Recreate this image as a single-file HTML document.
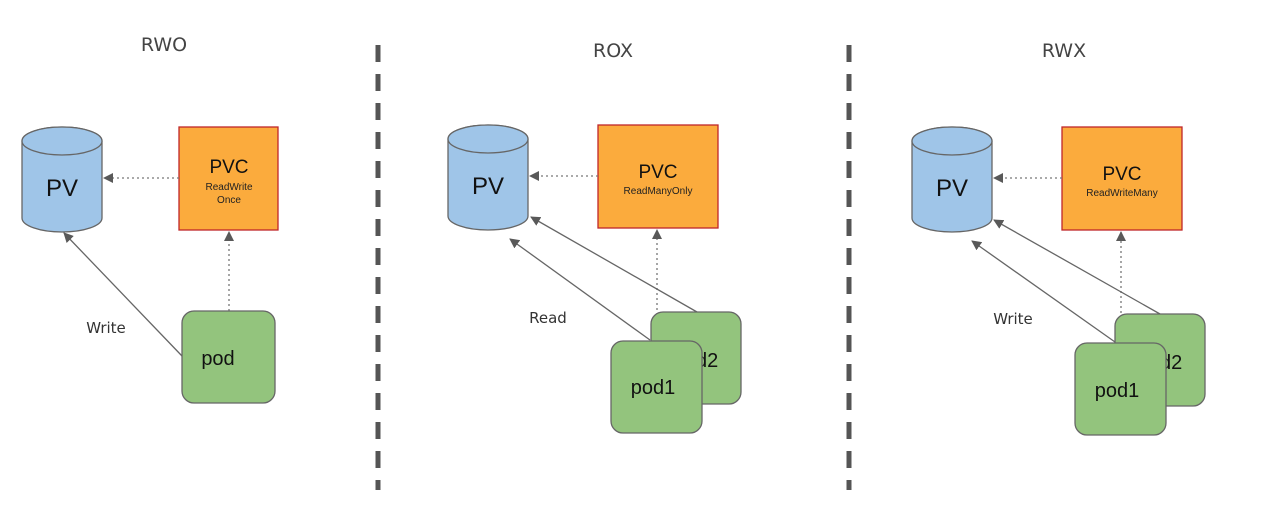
<!DOCTYPE html>
<html><head><meta charset="utf-8"><style>
html,body{margin:0;padding:0;background:#fff}
svg{display:block}
text{font-family:"Liberation Sans",sans-serif}
.dj{font-family:"DejaVu Sans",sans-serif}
</style></head><body>
<svg width="1283" height="511" viewBox="0 0 1283 511" xmlns="http://www.w3.org/2000/svg">
<defs>
<marker id="ah" markerWidth="10" markerHeight="10" refX="9" refY="5" orient="auto" markerUnits="userSpaceOnUse">
<path d="M0,0 L10,5 L0,10 Z" fill="#595959"/>
</marker>
</defs>
<g fill="#444" font-size="19" text-anchor="middle" class="dj">
<text class="dj" x="164" y="51">RWO</text>
<text class="dj" x="613" y="57">ROX</text>
<text class="dj" x="1064" y="57">RWX</text>
</g>
<g stroke="#555" stroke-width="5" stroke-dasharray="17,12">
<line x1="378" y1="45" x2="378" y2="490"/>
<line x1="849" y1="45" x2="849" y2="490"/>
</g>

<!-- RWO -->
<path d="M22,141 L22,218 A40,14 0 0 0 102,218 L102,141 A40,14 0 0 0 22,141 Z" fill="#9fc5e8" stroke="#666" stroke-width="1.3"/>
<ellipse cx="62" cy="141" rx="40" ry="14" fill="#9fc5e8" stroke="#666" stroke-width="1.3"/>
<text x="62" y="196" font-size="24" text-anchor="middle" fill="#111">PV</text>
<rect x="179" y="127" width="99" height="103" fill="#fbab3d" stroke="#c0262a" stroke-width="1.3"/>
<text x="229" y="173" font-size="19" text-anchor="middle" fill="#111">PVC</text>
<text x="229" y="190" font-size="10" text-anchor="middle" fill="#222">ReadWrite</text>
<text x="229" y="203" font-size="10" text-anchor="middle" fill="#222">Once</text>
<line x1="179" y1="178" x2="104" y2="178" stroke="#777" stroke-width="1.3" stroke-dasharray="2,3" marker-end="url(#ah)"/>
<line x1="229" y1="311" x2="229" y2="232" stroke="#777" stroke-width="1.3" stroke-dasharray="2,3" marker-end="url(#ah)"/>
<line x1="182" y1="356" x2="64" y2="233" stroke="#666" stroke-width="1.3" marker-end="url(#ah)"/>
<rect x="182" y="311" width="93" height="92" rx="12" fill="#93c47d" stroke="#666" stroke-width="1.3"/>
<text x="218" y="365" font-size="20" text-anchor="middle" fill="#111">pod</text>
<text class="dj" x="106" y="333" font-size="15" text-anchor="middle" fill="#333">Write</text>

<!-- ROX -->
<path d="M448,139 L448,216 A40,14 0 0 0 528,216 L528,139 A40,14 0 0 0 448,139 Z" fill="#9fc5e8" stroke="#666" stroke-width="1.3"/>
<ellipse cx="488" cy="139" rx="40" ry="14" fill="#9fc5e8" stroke="#666" stroke-width="1.3"/>
<text x="488" y="194" font-size="24" text-anchor="middle" fill="#111">PV</text>
<rect x="598" y="125" width="120" height="103" fill="#fbab3d" stroke="#c0262a" stroke-width="1.3"/>
<text x="658" y="178" font-size="19" text-anchor="middle" fill="#111">PVC</text>
<text x="658" y="194" font-size="10" text-anchor="middle" fill="#222">ReadManyOnly</text>
<line x1="598" y1="176" x2="530" y2="176" stroke="#777" stroke-width="1.3" stroke-dasharray="2,3" marker-end="url(#ah)"/>
<line x1="657" y1="340" x2="657" y2="230" stroke="#777" stroke-width="1.3" stroke-dasharray="2,3" marker-end="url(#ah)"/>
<line x1="697" y1="312" x2="531" y2="217" stroke="#666" stroke-width="1.3" marker-end="url(#ah)"/>
<line x1="650" y1="340" x2="510" y2="239" stroke="#666" stroke-width="1.3" marker-end="url(#ah)"/>
<rect x="651" y="312" width="90" height="92" rx="12" fill="#93c47d" stroke="#666" stroke-width="1.3"/>
<text x="696" y="367" font-size="20" text-anchor="middle" fill="#111">pod2</text>
<rect x="611" y="341" width="91" height="92" rx="12" fill="#93c47d" stroke="#666" stroke-width="1.3"/>
<text x="653" y="394" font-size="20" text-anchor="middle" fill="#111">pod1</text>
<text class="dj" x="548" y="323" font-size="15" text-anchor="middle" fill="#333">Read</text>

<!-- RWX -->
<path d="M912,141 L912,218 A40,14 0 0 0 992,218 L992,141 A40,14 0 0 0 912,141 Z" fill="#9fc5e8" stroke="#666" stroke-width="1.3"/>
<ellipse cx="952" cy="141" rx="40" ry="14" fill="#9fc5e8" stroke="#666" stroke-width="1.3"/>
<text x="952" y="196" font-size="24" text-anchor="middle" fill="#111">PV</text>
<rect x="1062" y="127" width="120" height="103" fill="#fbab3d" stroke="#c0262a" stroke-width="1.3"/>
<text x="1122" y="180" font-size="19" text-anchor="middle" fill="#111">PVC</text>
<text x="1122" y="196" font-size="10" text-anchor="middle" fill="#222">ReadWriteMany</text>
<line x1="1062" y1="178" x2="994" y2="178" stroke="#777" stroke-width="1.3" stroke-dasharray="2,3" marker-end="url(#ah)"/>
<line x1="1121" y1="343" x2="1121" y2="232" stroke="#777" stroke-width="1.3" stroke-dasharray="2,3" marker-end="url(#ah)"/>
<line x1="1160" y1="314" x2="994" y2="220" stroke="#666" stroke-width="1.3" marker-end="url(#ah)"/>
<line x1="1115" y1="342" x2="972" y2="241" stroke="#666" stroke-width="1.3" marker-end="url(#ah)"/>
<rect x="1115" y="314" width="90" height="92" rx="12" fill="#93c47d" stroke="#666" stroke-width="1.3"/>
<text x="1160" y="369" font-size="20" text-anchor="middle" fill="#111">pod2</text>
<rect x="1075" y="343" width="91" height="92" rx="12" fill="#93c47d" stroke="#666" stroke-width="1.3"/>
<text x="1117" y="397" font-size="20" text-anchor="middle" fill="#111">pod1</text>
<text class="dj" x="1013" y="324" font-size="15" text-anchor="middle" fill="#333">Write</text>
</svg>
</body></html>
